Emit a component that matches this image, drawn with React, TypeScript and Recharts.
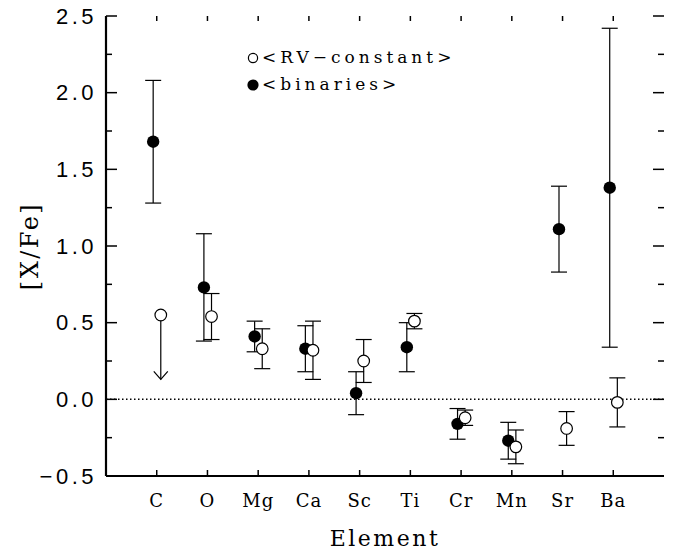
import { ScatterChart, Scatter, XAxis, YAxis, ErrorBar, ReferenceLine } from 'recharts'

const elements = ['C', 'O', 'Mg', 'Ca', 'Sc', 'Ti', 'Cr', 'Mn', 'Sr', 'Ba']

// <binaries>: mean [X/Fe] and the low / high ends of each error bar
const binMean = [1.68, 0.73, 0.41, 0.33, 0.04, 0.34, -0.16, -0.27, 1.11, 1.38]
const binLow = [1.28, 0.38, 0.31, 0.18, -0.1, 0.18, -0.26, -0.39, 0.83, 0.34]
const binHigh = [2.08, 1.08, 0.51, 0.48, 0.18, 0.5, -0.06, -0.15, 1.39, 2.42]

// <RV-constant>: carbon only has an upper limit
const rvMean = [null, 0.54, 0.33, 0.32, 0.25, 0.51, -0.12, -0.31, -0.19, -0.02]
const rvLow = [null, 0.39, 0.2, 0.13, 0.11, 0.46, -0.17, -0.42, -0.3, -0.18]
const rvHigh = [null, 0.69, 0.46, 0.51, 0.39, 0.56, -0.07, -0.2, -0.08, 0.14]
const cUpperLimit = 0.55
const cLimitArrowTo = 0.13

const X_DOMAIN = [0, 11]
const Y_DOMAIN = [-0.5, 2.5]
const yMajorTicks = [-0.5, 0, 0.5, 1, 1.5, 2, 2.5]
const yMinorTicks = [-0.25, 0.25, 0.75, 1.25, 1.75, 2.25]
const xTicks = elements.map((_, i) => i + 1)

// chart box
const W = 678
const H = 554
const MARGIN = { top: 16, right: 14, bottom: 0, left: 0 }
const Y_AXIS_W = 106
const X_AXIS_H = 78
const PLOT_W = W - MARGIN.left - MARGIN.right - Y_AXIS_W
const PLOT_H = H - MARGIN.top - MARGIN.bottom - X_AXIS_H

// tick lengths in px, turned into data units so the reference lines can draw them
const xPerPx = (X_DOMAIN[1] - X_DOMAIN[0]) / PLOT_W
const yPerPx = (Y_DOMAIN[1] - Y_DOMAIN[0]) / PLOT_H
const MAJOR_LEN = 11 * xPerPx
const MINOR_LEN = 6 * xPerPx
const BOTTOM_LEN = 6 * yPerPx
const TOP_LEN = 5 * yPerPx

// small horizontal shift so the two samples don't sit on top of each other
const BIN_SHIFT = -0.07
const RV_SHIFT = 0.08

const binData = elements.map((el, i) => ({
  el,
  x: i + 1 + BIN_SHIFT,
  y: binMean[i],
  err: [binMean[i] - binLow[i], binHigh[i] - binMean[i]]
}))

const rvData = elements
  .map((el, i) => ({ el, i, m: rvMean[i], lo: rvLow[i], hi: rvHigh[i] }))
  .filter((d) => d.m !== null)
  .map((d) => ({
    el: d.el,
    x: d.i + 1 + RV_SHIFT,
    y: d.m as number,
    err: [(d.m as number) - (d.lo as number), (d.hi as number) - (d.m as number)]
  }))

const cLimitX = 1 + RV_SHIFT
const cLimit = [{ x: cLimitX, y: cUpperLimit }]
const cArrowHead = [{ x: cLimitX, y: cLimitArrowTo }]

// inward tick segments on all four sides of the frame
const ySegments = [
  ...yMajorTicks.map((y) => ({ y, len: MAJOR_LEN })),
  ...yMinorTicks.map((y) => ({ y, len: MINOR_LEN }))
].flatMap(({ y, len }) => [
  [{ x: X_DOMAIN[0], y }, { x: X_DOMAIN[0] + len, y }],
  [{ x: X_DOMAIN[1] - len, y }, { x: X_DOMAIN[1], y }]
])
const xSegments = xTicks.flatMap((x) => [
  [{ x, y: Y_DOMAIN[0] }, { x, y: Y_DOMAIN[0] + BOTTOM_LEN }],
  [{ x, y: Y_DOMAIN[1] - TOP_LEN }, { x, y: Y_DOMAIN[1] }]
])
const tickSegments = [...ySegments, ...xSegments]

const serif = '"DejaVu Serif", serif'
const sans = '"Liberation Sans", Arial, sans-serif'

const fmt = (v: number) => (v < 0 ? '\u2212' : '') + Math.abs(v).toFixed(1)

const frame = { stroke: '#000', strokeWidth: 2.2 }

function YLabel(props: any) {
  const vb = props.viewBox || {}
  const cy = vb.y + vb.height / 2
  return (
    <text
      x={0}
      y={0}
      transform={`translate(38, ${cy}) rotate(-90)`}
      textAnchor="middle"
      fontFamily={serif}
      fontSize={24}
      letterSpacing={2.5}
      fill="#000"
    >
      [X/Fe]
    </text>
  )
}

const filledDot = (p: any) => <circle cx={p.cx} cy={p.cy} r={6.2} fill="#000" />
const openDot = (p: any) => (
  <circle cx={p.cx} cy={p.cy} r={5.8} fill="#fff" stroke="#000" strokeWidth={1.2} />
)
const arrowHead = (p: any) => (
  <polyline
    points={`${p.cx - 7},${p.cy - 8} ${p.cx},${p.cy} ${p.cx + 7},${p.cy - 8}`}
    fill="none"
    stroke="#000"
    strokeWidth={1.2}
  />
)

export default function App() {
  return (
    <div style={{ position: 'absolute', left: 0, top: 0, width: W, height: H, background: '#fff' }}>
      <ScatterChart width={W} height={H} margin={MARGIN}>
        <XAxis
          xAxisId="b"
          dataKey="x"
          type="number"
          domain={X_DOMAIN}
          ticks={xTicks}
          interval={0}
          height={X_AXIS_H}
          tickSize={0}
          tickMargin={18}
          tickLine={false}
          axisLine={frame}
          tick={{ fontFamily: serif, fontSize: 18, fill: '#000', letterSpacing: 1 }}
          tickFormatter={(v: number) => elements[v - 1]}
          label={{
            value: 'Element',
            position: 'insideBottom',
            offset: 8,
            fontFamily: serif,
            fontSize: 22,
            letterSpacing: 2.5,
            fill: '#000'
          }}
        />
        <XAxis
          xAxisId="t"
          orientation="top"
          dataKey="x"
          type="number"
          domain={X_DOMAIN}
          height={0}
          tickLine={false}
          axisLine={frame}
          tick={false}
        />
        <YAxis
          yAxisId="l"
          dataKey="y"
          type="number"
          domain={Y_DOMAIN}
          ticks={yMajorTicks}
          interval={0}
          width={Y_AXIS_W}
          tickSize={0}
          tickMargin={9}
          tickLine={false}
          axisLine={frame}
          tick={{ fontFamily: sans, fontSize: 22, fill: '#000', letterSpacing: 3.5 }}
          tickFormatter={fmt}
          label={{ content: (p: any) => <YLabel {...p} /> }}
        />
        <YAxis
          yAxisId="r"
          orientation="right"
          dataKey="y"
          type="number"
          domain={Y_DOMAIN}
          width={0}
          tickLine={false}
          axisLine={frame}
          tick={false}
        />
        <ReferenceLine
          xAxisId="b"
          yAxisId="l"
          y={0}
          stroke="#000"
          strokeWidth={1.5}
          strokeDasharray="1.5 2.5"
        />
        <ReferenceLine
          xAxisId="b"
          yAxisId="l"
          segment={[
            { x: cLimitX, y: cUpperLimit },
            { x: cLimitX, y: cLimitArrowTo }
          ]}
          stroke="#000"
          strokeWidth={1.2}
        />
        <Scatter
          xAxisId="b"
          yAxisId="l"
          data={binData}
          shape={filledDot}
          isAnimationActive={false}
        >
          <ErrorBar dataKey="err" direction="y" width={8} stroke="#000" strokeWidth={1.2} isAnimationActive={false} />
        </Scatter>
        <Scatter
          xAxisId="b"
          yAxisId="l"
          data={rvData}
          shape={openDot}
          isAnimationActive={false}
        >
          <ErrorBar dataKey="err" direction="y" width={8} stroke="#000" strokeWidth={1.2} isAnimationActive={false} />
        </Scatter>
        <Scatter xAxisId="b" yAxisId="l" data={cArrowHead} shape={arrowHead} isAnimationActive={false} />
        <Scatter xAxisId="b" yAxisId="l" data={cLimit} shape={openDot} isAnimationActive={false} />
        {tickSegments.map((seg, i) => (
          <ReferenceLine
            key={`tick${i}`}
            xAxisId="b"
            yAxisId="l"
            segment={seg}
            stroke="#000"
            strokeWidth={1.5}
            ifOverflow="visible"
          />
        ))}
      </ScatterChart>
      {/* legend */}
      <div style={{ position: 'absolute', left: 244, top: 42, pointerEvents: 'none' }}>
        <svg width={240} height={56}>
          <circle cx={9} cy={16} r={4.6} fill="#fff" stroke="#000" strokeWidth={1.2} />
          <text x={18} y={21} fontFamily={serif} fontSize={17} letterSpacing={4} fill="#000">
            {'<RV\u2212constant>'}
          </text>
          <circle cx={9} cy={43} r={5.6} fill="#000" />
          <text x={18} y={48} fontFamily={serif} fontSize={17} letterSpacing={4} fill="#000">
            {'<binaries>'}
          </text>
        </svg>
      </div>
    </div>
  )
}
